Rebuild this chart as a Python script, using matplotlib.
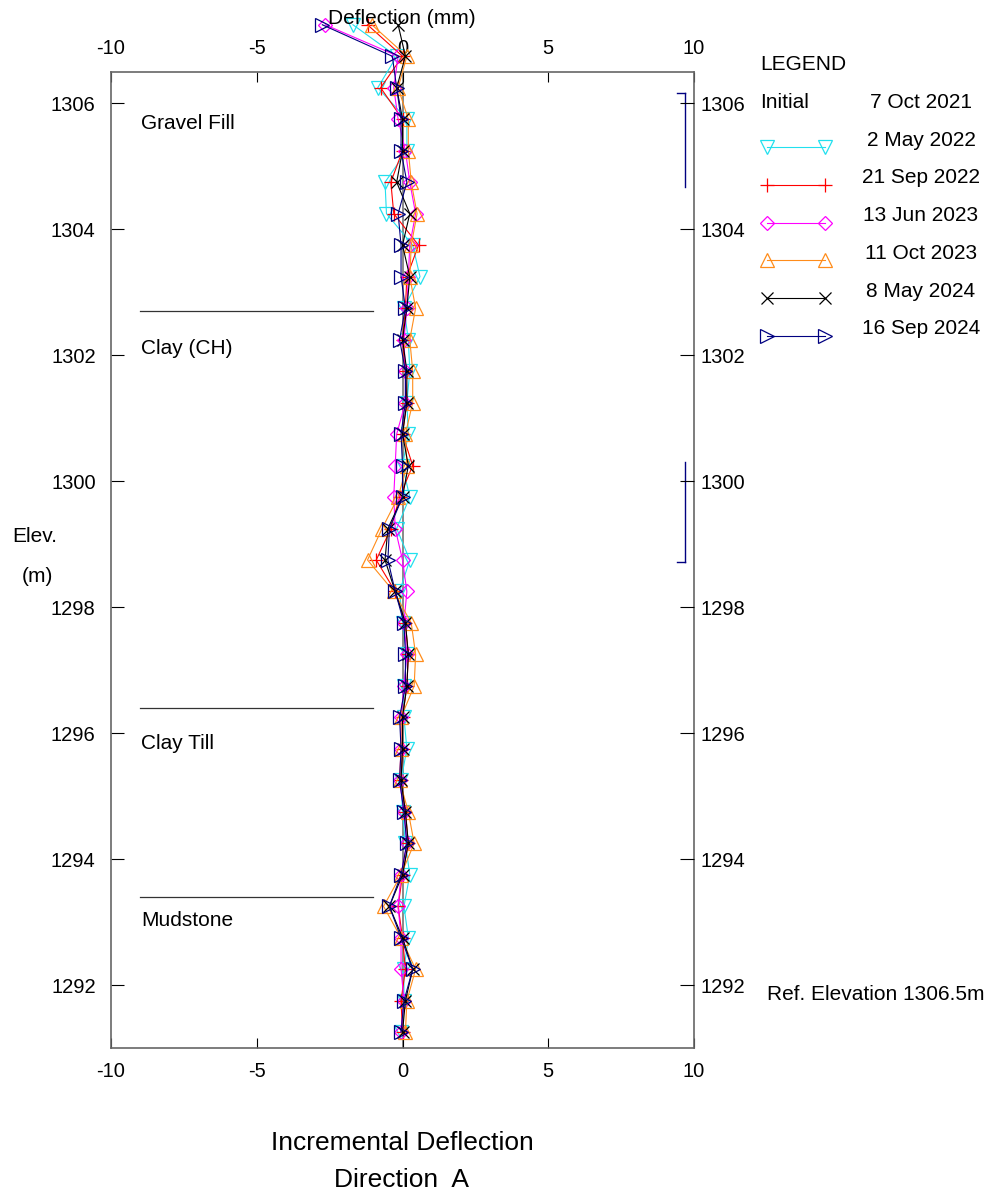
import matplotlib
matplotlib.use('Agg')
import matplotlib.pyplot as plt

plt.rcParams['font.family'] = ['Liberation Sans', 'DejaVu Sans']
plt.rcParams['axes.unicode_minus'] = False

# --- data: incremental deflection (mm) per reading depth ---
elev = [1307.25, 1306.75, 1306.25, 1305.75, 1305.25, 1304.75, 1304.25, 1303.75,
        1303.25, 1302.75, 1302.25, 1301.75, 1301.25, 1300.75, 1300.25, 1299.75,
        1299.25, 1298.75, 1298.25, 1297.75, 1297.25, 1296.75, 1296.25, 1295.75,
        1295.25, 1294.75, 1294.25, 1293.75, 1293.25, 1292.75, 1292.25, 1291.75,
        1291.25]

may22 = [-1.70, -0.20, -0.85, 0.15, 0.15, -0.60, -0.55, 0.35, 0.60, 0.05, 0.20,
         0.25, 0.15, 0.20, 0.00, 0.25, -0.20, 0.25, -0.10, 0.00, 0.15, 0.05,
         0.05, 0.15, -0.05, 0.00, 0.10, 0.25, 0.05, 0.20, 0.05, 0.05, -0.05]
sep22 = [-1.20, 0.00, -0.75, 0.00, 0.00, -0.40, -0.30, 0.55, 0.15, 0.10, 0.00,
         0.10, 0.15, 0.00, 0.35, -0.10, -0.40, -0.90, -0.25, 0.10, 0.20, 0.15,
         0.00, 0.00, -0.05, 0.10, 0.20, 0.00, -0.15, 0.00, 0.10, -0.05, 0.00]
jun23 = [-2.65, -0.15, -0.30, -0.15, 0.10, 0.25, 0.45, 0.25, 0.20, 0.15, 0.05,
         0.10, 0.10, -0.20, -0.25, -0.30, -0.25, 0.00, 0.15, 0.05, 0.15, 0.05,
         -0.05, -0.05, -0.10, 0.05, 0.15, -0.05, -0.15, -0.05, -0.05, 0.05, -0.05]
oct23 = [-1.05, 0.15, -0.15, 0.20, 0.20, 0.30, 0.50, 0.30, 0.25, 0.45, 0.25,
         0.35, 0.35, 0.10, 0.15, -0.15, -0.70, -1.20, -0.30, 0.30, 0.45, 0.40,
         -0.05, -0.05, -0.10, 0.20, 0.40, -0.05, -0.65, -0.05, 0.45, 0.15, 0.10]
may24 = [-0.15, 0.10, -0.20, 0.00, 0.00, -0.20, 0.25, 0.00, 0.25, 0.15, 0.00,
         0.15, 0.15, 0.00, 0.20, 0.00, -0.50, -0.60, -0.25, 0.10, 0.20, 0.15,
         0.00, 0.00, -0.05, 0.10, 0.20, 0.00, -0.45, 0.00, 0.35, 0.10, 0.00]
sep24 = [-2.75, -0.35, -0.20, -0.05, -0.05, 0.15, -0.15, -0.05, -0.05, 0.10, -0.10,
         0.10, 0.10, -0.05, 0.00, 0.00, -0.45, -0.50, -0.25, 0.05, 0.10, 0.10,
         -0.10, -0.05, -0.10, 0.05, 0.15, -0.05, -0.45, -0.05, 0.35, 0.05, -0.05]

series = [may22, sep22, jun23, oct23, may24, sep24]
labels = ['2 May 2022', '21 Sep 2022', '13 Jun 2023', '11 Oct 2023',
          '8 May 2024', '16 Sep 2024']
colors = ['#22e0ee', '#ff0000', '#ff00ff', '#ff8c1a', '#000000', '#000080']
markers = ['v', '+', 'D', '^', 'x', '>']
msizes = [10, 10, 7, 10, 9, 10]

layer_names = ['Gravel Fill', 'Clay (CH)', 'Clay Till', 'Mudstone']
layer_label_elev = [1305.68, 1302.11, 1295.83, 1293.03]
layer_bounds = [1302.7, 1296.4, 1293.4]

# zones marked on the right edge (top, bottom, tick end)
brackets = [(1306.17, 1304.68, 'top'), (1300.3, 1298.72, 'bottom')]

W, H = 994, 1196
fig = plt.figure(figsize=(W / 100, H / 100), dpi=100)
ax = fig.add_axes([111 / W, 1 - 1048 / H, (694 - 111) / W, (1048 - 72) / H])

ax.axvline(0, color='#808080', linewidth=1.3, zorder=1)

for vals, c, m, ms in zip(series, colors, markers, msizes):
    ax.plot(vals, elev, color=c, linewidth=0.8, marker=m, markersize=ms,
            markerfacecolor='none', markeredgecolor=c, markeredgewidth=0.9,
            clip_on=False, zorder=3)

# soil layers
for b in layer_bounds:
    ax.plot([-9, -1], [b, b], color='#333333', linewidth=0.9)
for name, e in zip(layer_names, layer_label_elev):
    ax.text(-8.97, e, name, fontsize=15, va='center', ha='left')

for top, bot, end in brackets:
    ax.plot([9.68, 9.68], [top, bot], color='#000080', linewidth=1.0)
    yend = top if end == 'top' else bot
    ax.plot([9.4, 9.68], [yend, yend], color='#000080', linewidth=1.0)

ax.set_xlim(-10, 10)
ax.set_ylim(1291, 1306.5)
ax.set_xticks([-10, -5, 0, 5, 10])
ax.set_yticks([1292, 1294, 1296, 1298, 1300, 1302, 1304, 1306])
ax.tick_params(axis='x', direction='in', top=True, labeltop=True, labelsize=14.5,
               pad=10, length=7)
ax.tick_params(axis='y', direction='in', left=True, right=False, labelsize=14.5,
               pad=11, length=9)
for sp in ax.spines.values():
    sp.set_color('#666666')
    sp.set_linewidth(1.2)

ax_r = ax.twinx()
ax_r.set_ylim(ax.get_ylim())
ax_r.set_yticks(ax.get_yticks())
ax_r.tick_params(axis='y', direction='in', labelsize=14.5, pad=5, length=10)
for sp in ax_r.spines.values():
    sp.set_visible(False)

# text around the plot
fig.text(402 / W, 1 - 18 / H, 'Deflection (mm)', fontsize=15, ha='center', va='center')
fig.text(402 / W, 1 - 1143 / H, 'Incremental Deflection', fontsize=19, ha='center', va='center')
fig.text(402 / W, 1 - 1180 / H, 'Direction  A', fontsize=19, ha='center', va='center')
fig.text(35 / W, 1 - 537 / H, 'Elev.', fontsize=15, ha='center', va='center')
fig.text(37 / W, 1 - 577 / H, '(m)', fontsize=15, ha='center', va='center')
fig.text(767 / W, 1 - 995 / H, 'Ref. Elevation 1306.5m', fontsize=15, ha='left', va='center')

# hand-drawn legend
lg = fig.add_axes([0, 0, 1, 1], zorder=-1)
lg.set_xlim(0, W)
lg.set_ylim(H, 0)
lg.axis('off')
lg.text(760, 65, 'LEGEND', fontsize=15, ha='left', va='center')
lg.text(760, 103, 'Initial', fontsize=15, ha='left', va='center')
lg.text(921, 103, '7 Oct 2021', fontsize=15, ha='center', va='center')
for i, (lab, c, m, ms) in enumerate(zip(labels, colors, markers, msizes)):
    yt = 140 + i * 37.8
    lg.plot([767, 825], [yt + 7, yt + 7], color=c, linewidth=0.8, marker=m,
            markersize=ms, markerfacecolor='none', markeredgecolor=c,
            markeredgewidth=0.9)
    lg.text(921, yt, lab, fontsize=15, ha='center', va='center')

plt.savefig('out.png', dpi=100)
